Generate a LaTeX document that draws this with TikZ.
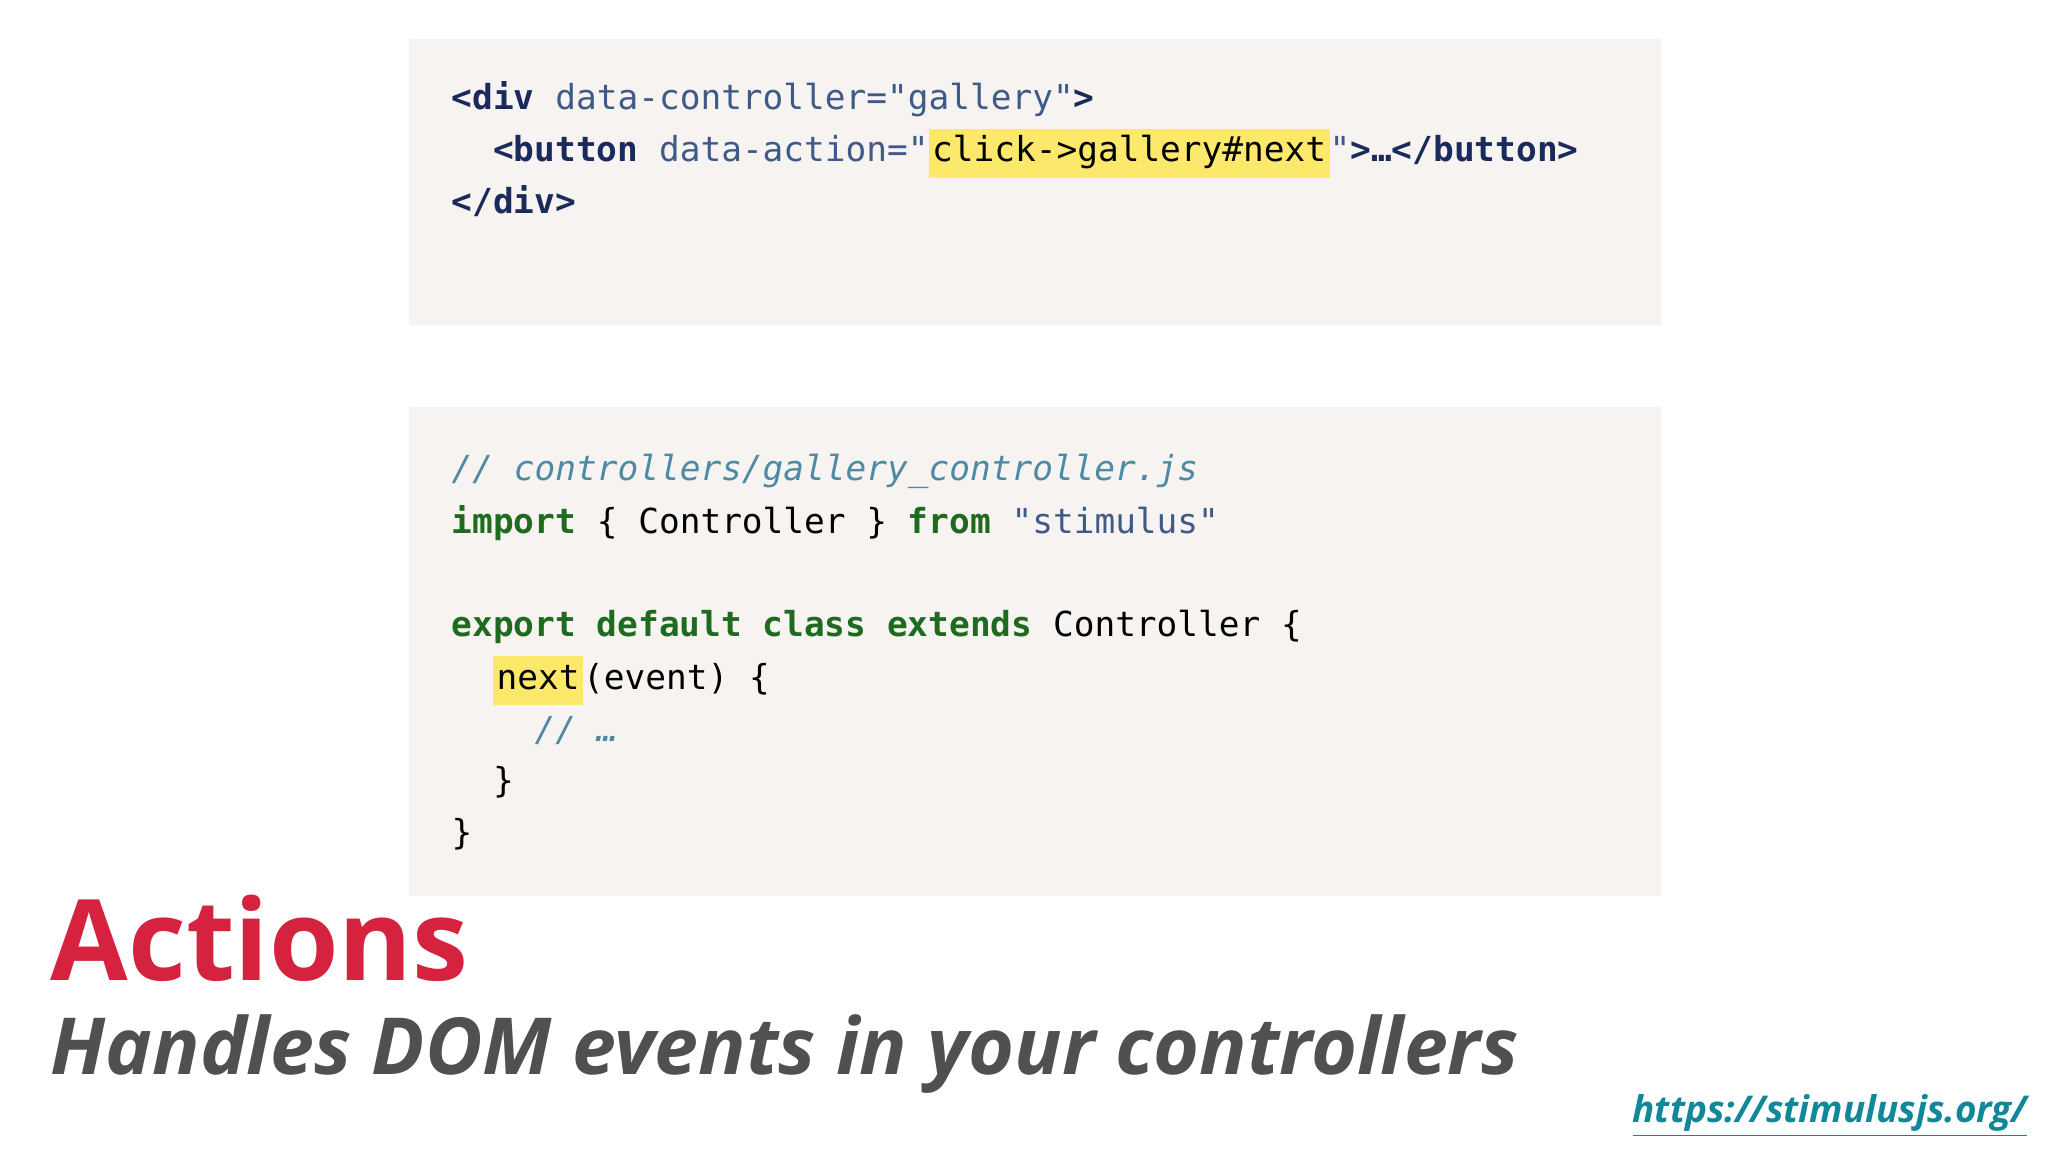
\documentclass[tikz,border=0pt]{standalone}
\usepackage{fontspec}
\setmonofont{DejaVu Sans Mono}
\newfontfamily\titlefont{Open Sans}
\definecolor{boxbg}{HTML}{F6F3F1}
\definecolor{tagc}{HTML}{1B2A5C}
\definecolor{attrc}{HTML}{3D5A88}
\definecolor{kwc}{HTML}{1E6A1E}
\definecolor{cmc}{HTML}{4D8AA3}
\definecolor{hlc}{HTML}{FCE86A}
\definecolor{redc}{HTML}{D5223F}
\definecolor{grayc}{HTML}{505050}
\definecolor{linkc}{HTML}{11889A}
\newcommand{\hl}[1]{{\setlength\fboxsep{1pt}\colorbox{hlc}{\strut #1}}}
\begin{document}
\begin{tikzpicture}[x=1cm,y=1cm,
  code/.style={anchor=base west,inner sep=0pt,font=\ttfamily\fontsize{9.8}{12}\selectfont},
  box/.style={fill=boxbg,draw=none}]
\useasboundingbox[fill=white] (0,0) rectangle (20.48,-11.52);
\fill[boxbg] (4.09,-0.39) rectangle (16.61,-3.25);
\fill[boxbg] (4.09,-4.07) rectangle (16.61,-8.96);
\node[code] (l1) at (4.51,-1.10) {\textcolor{tagc}{\textbf{<div}} \textcolor{attrc}{data-controller="gallery"}\textcolor{tagc}{\textbf{>}}};
\node[code] (l2) at (4.51,-1.62) {\phantom{xx}\textcolor{tagc}{\textbf{<button}} \textcolor{attrc}{data-action="}\hl{click->gallery\#next}\textcolor{attrc}{"}\textcolor{tagc}{\textbf{>…</button>}}};
\node[code] (l3) at (4.51,-2.14) {\textcolor{tagc}{\textbf{</div>}}};
\node[code] (m1) at (4.51,-4.81) {\textcolor{cmc}{\itshape // controllers/gallery\_controller.js}};
\node[code] (m2) at (4.51,-5.33) {\textcolor{kwc}{\textbf{import}} \{ Controller \} \textcolor{kwc}{\textbf{from}} \textcolor{attrc}{"stimulus"}};
\node[code] (m3) at (4.51,-6.37) {\textcolor{kwc}{\textbf{export default class extends}} Controller \{};
\node[code] (m4) at (4.51,-6.89) {\phantom{xx}\hl{next}(event) \{};
\node[code] (m5) at (4.51,-7.41) {\phantom{xxxx}\textcolor{cmc}{\itshape // …}};
\node[code] (m6) at (4.51,-7.93) {\phantom{xx}\}};
\node[code] (m7) at (4.51,-8.45) {\}};
\node[anchor=base west,inner sep=0pt,text=redc,font=\titlefont\bfseries\fontsize{32}{36}\selectfont] (title) at (0.50,-9.80) {Actions};
\node[anchor=base west,inner sep=0pt,text=grayc,font=\titlefont\bfseries\itshape\fontsize{22.4}{26}\selectfont] (sub) at (0.50,-10.74) {Handles DOM events in your controllers};
\node[anchor=base east,inner sep=0pt,text=linkc,font=\titlefont\bfseries\itshape\fontsize{10.5}{12}\selectfont] (url) at (20.28,-11.22) {\underline{https://stimulusjs.org/}};
\end{tikzpicture}
\end{document}
